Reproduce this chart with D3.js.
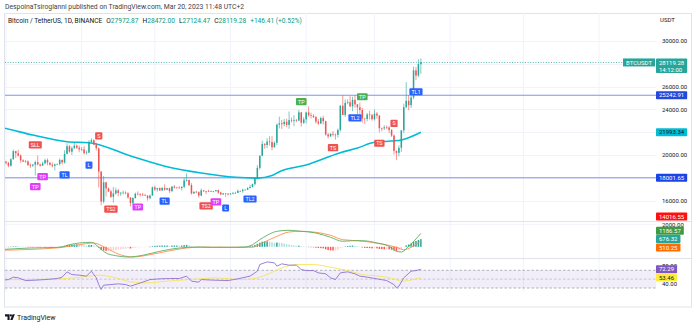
<!DOCTYPE html>
<html><head><meta charset="utf-8">
<script src="https://cdn.jsdelivr.net/npm/d3@7"></script>
<style>
body{margin:0;background:#fff}
svg{display:block;font-family:Roboto,"Liberation Sans",Arial,sans-serif}
</style></head>
<body><svg id="c" width="696" height="325"></svg>
<script>
// ---------------- DATA ----------------
const publishText = "DespoinaTsiroglanni published on TradingView.com, Mar 20, 2023 11:48 UTC+2";
const symbolText = "Bitcoin / TetherUS, 1D, BINANCE";
const startDate = "2022-09-28";
const firstOpen = 19085;
const closes = [19412,19591,19422,
 19310,19057,19630,20337,20159,19955,19531,19417,19439,19131,19060,19155,19375,19177,19068,19268,19550,19334,19140,19053,19173,19208,19567,19345,20095,20771,20295,20592,20818,20636,20496,
 20485,20160,20209,21148,21299,20905,20591,18547,15922,17602,17070,16812,16330,16620,16900,16663,16682,16697,16634,16280,15782,16226,16603,16598,16522,16458,16428,16213,16443,17164,
 16978,17093,16886,17106,16967,17089,16837,17224,17129,17128,17105,17206,17775,17804,17357,16633,16776,16738,16438,16896,16824,16821,16778,16837,16830,16919,16706,16547,16633,16607,16542,
 16616,16672,16675,16850,16831,16951,16955,17091,17196,17446,17934,18869,19930,20954,20871,21185,21133,20677,21071,22667,22784,22707,22917,22632,23060,23009,23074,23022,23743,22827,23125,
 23732,23488,23431,23327,22932,22762,23240,22964,21797,21626,21862,21783,21773,22199,24324,23517,24569,24631,24271,24836,24440,24188,23947,23199,23157,23555,23492,23141,
 23628,23465,22354,22346,22430,22410,22197,21705,20362,20187,20633,22163,24197,24746,24375,25055,27423,26965,27972.87,28119.28];
const highs = [19790,19645,20185,
 19484,19395,19719,20475,20365,20456,20055,19627,19558,19525,19266,19227,19513,19951,19227,19424,19675,19706,19348,19346,19250,19257,19695,19601,20415,21020,20870,20750,21085,20931,20840,
 20700,20800,20394,21302,21480,21365,21069,20670,18590,18155,17656,17154,16945,17190,17134,17015,16750,16860,16815,16746,16290,16300,16705,16812,16610,16684,16595,16483,16530,17250,
 17320,17106,17158,17203,17425,17111,17140,17299,17360,17227,17266,17241,18000,18387,17846,17531,16800,16863,16816,17061,16923,16869,16959,16870,16860,16939,16972,16785,16664,16644,16649,
 16630,16760,16777,16991,16879,17041,16981,17176,17398,17491,17992,19117,19964,21258,21050,21473,21647,21650,21188,22755,23372,23078,23165,23180,23816,23282,23500,23165,23960,23783,23320,
 23812,24255,23715,23587,23433,23158,23367,23452,23011,21938,21906,22090,21890,22322,24380,25250,24873,24877,25190,25120,25250,24476,24599,24132,23218,23689,23880,23600,
 24000,23780,23476,22410,22609,22603,22553,22267,21814,20368,20850,22185,24500,26386,25250,25200,27756,27725,28390,28472];
const lows = [18471,18843,19155,
 19159,18920,18959,19592,19730,19853,19320,19385,19319,19020,18860,18965,18190,19075,18975,19063,19160,19094,19071,18900,18650,19133,19070,19160,19243,20053,20200,20004,20553,20547,20240,
 20330,20048,20032,20180,21080,20880,20384,17167,15588,15755,16361,16749,16229,15815,16527,16378,16410,16550,16556,16160,15476,15618,16168,16460,16350,16394,16400,15995,16105,16429,
 16855,16788,16862,16879,16868,16906,16678,16733,17060,17091,17071,16873,17080,17660,17275,16527,16585,16663,16256,16398,16748,16560,16753,16772,16721,16786,16592,16465,16488,16333,16470,
 16499,16548,16605,16660,16753,16679,16908,16911,17095,17145,17315,17911,18714,19889,20551,20611,20819,20407,20659,20861,22334,22292,22497,22450,22300,22850,22534,22877,22982,22500,22714,
 22760,23363,23204,23253,22745,22628,22710,22665,21688,21451,21599,21630,21351,21531,22047,23505,23345,24450,24192,23840,24148,23574,23608,22841,22722,22963,23106,23020,
 23020,23195,21971,22087,22193,22263,21927,21580,20042,19549,19888,20262,21918,24100,23930,24123,24890,26578,26827,27124.47];
const macdHist = [20,25,15,
 10,-10,5,40,50,45,20,10,5,-15,-25,-30,-10,-20,-25,-15,5,0,-10,-20,-15,-5,20,20,90,160,170,190,210,210,190,
 170,130,110,150,160,120,60,-80,-300,-330,-360,-360,-350,-320,-280,-250,-220,-190,-160,-140,-150,-120,-80,-60,-40,-30,-20,-15,0,60,
 80,100,100,110,110,110,90,110,110,110,100,110,150,170,150,80,40,10,-20,-10,-15,-20,-25,-25,-25,-20,-30,-40,-40,-40,-40,
 -30,-20,-15,0,10,20,30,50,70,100,160,260,360,450,480,480,460,400,360,380,370,330,290,240,200,160,130,100,100,40,20,
 10,-10,-30,-50,-80,-110,-120,-140,-220,-290,-320,-330,-320,-260,-120,-60,20,70,90,110,100,60,10,-60,-100,-110,-120,-140,
 -130,-140,-190,-210,-220,-220,-230,-260,-330,-360,-330,-200,-30,120,200,300,450,520,600,676.32];
// MACD line and signal, read at sample dates
const macdDates = ["2022-09-28","2022-10-11","2022-10-23","2022-10-27","2022-10-31","2022-11-05","2022-11-08","2022-11-11","2022-11-15","2022-11-20","2022-11-26","2022-12-03","2022-12-11","2022-12-19","2022-12-24","2023-01-06","2023-01-10","2023-01-13","2023-01-16","2023-01-20","2023-01-25","2023-01-30","2023-02-05","2023-02-11","2023-02-16","2023-02-20","2023-02-24","2023-03-02","2023-03-07","2023-03-10","2023-03-12","2023-03-15","2023-03-20"];
const macdLine = [-258,-107,-44,187,338,400,-30,-551,-791,-907,-756,-400,-107,-18,-44,-44,187,631,1022,1378,1467,1378,1227,844,489,542,542,338,44,-400,-462,44,1186.57];
const signalDates = ["2022-09-28","2022-10-23","2022-10-31","2022-11-06","2022-11-11","2022-11-16","2022-11-22","2022-11-29","2022-12-06","2022-12-14","2022-12-19","2023-01-10","2023-01-14","2023-01-20","2023-01-25","2023-01-30","2023-02-05","2023-02-11","2023-02-16","2023-02-22","2023-02-27","2023-03-04","2023-03-10","2023-03-13","2023-03-16","2023-03-20"];
const signalLine = [-311,-80,187,338,-107,-640,-907,-702,-400,-107,-44,-44,338,933,1316,1378,1289,1022,631,542,427,249,-44,-258,-44,510.25];
// RSI and its moving average, read at sample dates
const rsiDates = ["2022-09-28","2022-10-02","2022-10-04","2022-10-06","2022-10-09","2022-10-13","2022-10-17","2022-10-22","2022-10-24","2022-10-26","2022-10-28","2022-10-31","2022-11-03","2022-11-05","2022-11-06","2022-11-07","2022-11-08","2022-11-09","2022-11-10","2022-11-13","2022-11-16","2022-11-19","2022-11-21","2022-11-24","2022-11-29","2022-12-03","2022-12-07","2022-12-11","2022-12-14","2022-12-16","2022-12-19","2022-12-20","2022-12-25","2022-12-31","2023-01-04","2023-01-09","2023-01-12","2023-01-13","2023-01-16","2023-01-19","2023-01-20","2023-01-22","2023-01-25","2023-01-28","2023-01-30","2023-02-01","2023-02-04","2023-02-06","2023-02-09","2023-02-11","2023-02-13","2023-02-15","2023-02-18","2023-02-21","2023-02-23","2023-02-26","2023-03-02","2023-03-06","2023-03-09","2023-03-10","2023-03-11","2023-03-13","2023-03-16","2023-03-18","2023-03-20"];
const rsiValues = [46.8,49,54.5,53,46.8,47.7,49,51.4,54.5,66.5,60.4,59,56.8,68,60.4,53,37.8,26.5,36.4,37.8,39.4,37.8,34.2,39.4,49,50.7,51.4,51.4,56.8,45.5,43.2,49,47.7,46.8,50.7,56.8,68,83,89,86.8,79.4,84.6,81.6,81.6,71.7,69.4,69.4,64.2,62,53,49,64.2,66.5,62,56.8,54.5,50.7,46.8,37.8,30.3,34.2,53,68,69.4,72.29];
const rsiMaDates = ["2022-09-28","2022-10-12","2022-10-26","2022-11-04","2022-11-08","2022-11-15","2022-11-21","2022-11-28","2022-12-06","2022-12-19","2022-12-25","2023-01-06","2023-01-10","2023-01-16","2023-01-22","2023-01-28","2023-02-04","2023-02-11","2023-02-18","2023-02-24","2023-03-03","2023-03-09","2023-03-12","2023-03-15","2023-03-20"];
const rsiMaValues = [49,49,51.4,56.8,59,53,44,41.6,45.5,50.7,53,49,50.7,60.4,75.5,83,83,77,69.4,60.4,56.8,50.7,45.5,46.8,53.46];
// Cyan moving average on price, read at sample dates
const maDates = ["2022-09-28","2022-09-30","2022-10-12","2022-10-26","2022-11-04","2022-11-22","2022-12-06","2022-12-20","2023-01-03","2023-01-12","2023-01-18","2023-01-21","2023-02-01","2023-02-15","2023-02-22","2023-03-01","2023-03-08","2023-03-12","2023-03-20"];
const maValues = [22450,22368,21750,21167,21079,19851,18974,18421,18044,17970,18200,18535,19123,20202,20614,21114,21228,21316,21993.34];
// Horizontal levels
const levelValues = [25242.91, 18001.65];
const extraTagValue = 14016.55;
const priceGrid = [16000,18000,20000,22000,24000,26000,28000,30000];
const priceTickLabels = [16000,20000,24000,26000,30000];
const macdTickLabels = [2000];
const rsiTickLabels = [40,80];
const countdown = "14:12:00";
const tickerName = "BTCUSDT";
const quoteName = "USDT";
// Strategy signal labels
const annTexts = ["SLL","S","L","TL","TP","TP","TS2","TP","TL","TS2","TP","L","TL2","TP","TS","TL2","TP","TS","S","TL1"];
const annKinds = ["sell","sell","buy","buy","tps","tps","sell","tps","buy","sell","tps","buy","buy","tpl","sell","buy","tpl","sell","sell","buy"];
const annDates = ["2022-10-13","2022-11-08","2022-11-04","2022-10-25","2022-10-16","2022-10-13","2022-11-13","2022-11-24","2022-12-05","2022-12-22","2022-12-26","2022-12-30","2023-01-09","2023-01-30","2023-02-12","2023-02-21","2023-02-24","2023-03-03","2023-03-09","2023-03-18"];
const annPrices = [20880,21670,19120,18250,18100,17220,15260,15440,15960,15530,15880,15350,16140,24680,20640,23250,25110,21030,22780,25550];

// ---------------- DRAW ----------------
const svg = d3.select("#c");
const parse = d3.utcParse("%Y-%m-%d");
const t0 = parse(startDate);
const dates = closes.map((_, i) => d3.utcDay.offset(t0, i));
const opens = [firstOpen].concat(closes.slice(0, -1));
const n = closes.length;

const L = 5, R = 656;
const mainTop = 13, mainBot = 221, macdBot = 258, rsiBot = 292;
const x = d3.scaleUtc().domain([parse("2022-10-01"), parse("2023-06-01")]).range([6, 599]);
const yP = d3.scaleLinear().domain([20000, 30000]).range([155, 41]);
const yM = d3.scaleLinear().domain([0, 2000]).range([246.8, 224.3]);
const yR = d3.scaleLinear().domain([30, 70]).range([288, 270.3]);

const UP = "#26a69a", DN = "#ef5350", GRID = "#f0f3fa", BORDER = "#e0e3eb", TXT = "#131722";
const FONT = 6;

const defs = svg.append("defs");
function clip(id, y0, y1) {
  defs.append("clipPath").attr("id", id).append("rect").attr("x", L).attr("y", y0).attr("width", R - L).attr("height", y1 - y0);
}
clip("cMain", mainTop, mainBot); clip("cMacd", mainBot, macdBot); clip("cRsi", macdBot, rsiBot);
defs.append("clipPath").attr("id", "cAxisX").append("rect").attr("x", L).attr("y", rsiBot).attr("width", R - L + 40).attr("height", 20);

// frame
svg.append("rect").attr("x", 4.5).attr("y", 13.5).attr("width", 687).attr("height", 293.5)
  .attr("fill", "none").attr("stroke", BORDER).attr("stroke-width", 1);

// vertical grid
const months = x.ticks(d3.utcMonth.every(1));
svg.append("g").selectAll("line").data(months.filter(d => x(d) > L && x(d) < R)).join("line")
  .attr("x1", d => x(d)).attr("x2", d => x(d)).attr("y1", mainTop).attr("y2", rsiBot)
  .attr("stroke", GRID).attr("stroke-width", 1);

// horizontal grid
const gMain = svg.append("g").attr("clip-path", "url(#cMain)");
gMain.selectAll("line.hg").data(priceGrid).join("line").attr("class", "hg")
  .attr("x1", L).attr("x2", R).attr("y1", d => Math.round(yP(d)) + 0.5).attr("y2", d => Math.round(yP(d)) + 0.5)
  .attr("stroke", GRID);
const gMacd = svg.append("g").attr("clip-path", "url(#cMacd)");
gMacd.selectAll("line").data(macdTickLabels).join("line")
  .attr("x1", L).attr("x2", R).attr("y1", d => yM(d)).attr("y2", d => yM(d)).attr("stroke", GRID);

// pane separators
svg.append("g").selectAll("line").data([mainBot, macdBot]).join("line")
  .attr("x1", L).attr("x2", 691).attr("y1", d => d + 0.5).attr("y2", d => d + 0.5)
  .attr("stroke", BORDER).attr("stroke-width", 1);

// ---- main pane ----
gMain.selectAll("line.lvl").data(levelValues).join("line").attr("class", "lvl")
  .attr("x1", L).attr("x2", R).attr("y1", d => yP(d)).attr("y2", d => yP(d))
  .attr("stroke", "#7d95f3").attr("stroke-width", 1.1);
const lastC = closes[n - 1];
gMain.append("line").attr("x1", L).attr("x2", 625).attr("y1", yP(lastC)).attr("y2", yP(lastC))
  .attr("stroke", UP).attr("stroke-width", 0.8).attr("stroke-dasharray", "1,1.6");

const maPts = maDates.map((d, i) => [parse(d), maValues[i]]);
gMain.append("path").attr("d", d3.line().x(d => x(d[0])).y(d => yP(d[1])).curve(d3.curveMonotoneX)(maPts))
  .attr("fill", "none").attr("stroke", "#00bcd4").attr("stroke-width", 1.6);

const bw = 1.5;
const cg = gMain.append("g");
const idx = d3.range(n);
cg.selectAll("line.w").data(idx).join("line").attr("class", "w")
  .attr("x1", i => x(dates[i])).attr("x2", i => x(dates[i]))
  .attr("y1", i => yP(highs[i])).attr("y2", i => yP(lows[i]))
  .attr("stroke", i => closes[i] >= opens[i] ? UP : DN).attr("stroke-width", 0.6);
cg.selectAll("rect").data(idx).join("rect")
  .attr("x", i => x(dates[i]) - bw / 2).attr("width", bw)
  .attr("y", i => yP(Math.max(opens[i], closes[i])))
  .attr("height", i => Math.max(0.6, Math.abs(yP(opens[i]) - yP(closes[i]))))
  .attr("fill", i => closes[i] >= opens[i] ? UP : DN);

const annStyle = { sell: "#f0524f", buy: "#2962ff", tps: "#e040fb", tpl: "#4caf50" };
const ag = svg.append("g").attr("clip-path", "url(#cMain)");
annTexts.forEach((t, i) => {
  const cx = x(parse(annDates[i])), cy = yP(annPrices[i]);
  const g = ag.append("g");
  const tx = g.append("text").attr("x", cx).attr("y", cy + 2).attr("text-anchor", "middle")
    .attr("font-size", 5.4).attr("fill", "#fff").text(t);
  const w = tx.node().getComputedTextLength() + 4;
  g.insert("rect", "text").attr("x", cx - w / 2).attr("y", cy - 3.6).attr("width", w).attr("height", 7.2)
    .attr("rx", 1).attr("fill", annStyle[annKinds[i]]);
});

// ---- MACD pane ----
const hg = gMacd.append("g");
hg.selectAll("rect").data(idx).join("rect")
  .attr("x", i => x(dates[i]) - 0.75).attr("width", 1.5)
  .attr("y", i => Math.min(yM(0), yM(macdHist[i])))
  .attr("height", i => Math.max(0.4, Math.abs(yM(macdHist[i]) - yM(0))))
  .attr("fill", i => {
    const v = macdHist[i], p = i > 0 ? macdHist[i - 1] : v;
    return v >= 0 ? (v >= p ? "#26a69a" : "#b2dfdb") : (v < p ? "#ff5252" : "#ffcdd2");
  });
const lineGen = (ys) => d3.line().x(d => x(d[0])).y(d => ys(d[1])).curve(d3.curveMonotoneX);
gMacd.append("path").attr("d", lineGen(yM)(signalDates.map((d, i) => [parse(d), signalLine[i]])))
  .attr("fill", "none").attr("stroke", "#ff8f4a").attr("stroke-width", 0.9);
gMacd.append("path").attr("d", lineGen(yM)(macdDates.map((d, i) => [parse(d), macdLine[i]])))
  .attr("fill", "none").attr("stroke", "#5fae62").attr("stroke-width", 0.9);

// ---- RSI pane ----
const gRsi = svg.append("g").attr("clip-path", "url(#cRsi)");
gRsi.append("rect").attr("x", L).attr("width", R - L).attr("y", yR(70)).attr("height", yR(30) - yR(70))
  .attr("fill", "#7e57c2").attr("fill-opacity", 0.1);
gRsi.selectAll("line").data([70, 50, 30]).join("line")
  .attr("x1", L).attr("x2", R).attr("y1", d => yR(d)).attr("y2", d => yR(d))
  .attr("stroke", "#9598a1").attr("stroke-width", 0.8).attr("stroke-dasharray", "2.5,2")
  .attr("stroke-opacity", d => d === 50 ? 0.6 : 0.9);
gRsi.append("path").attr("d", d3.line().x(d => x(d[0])).y(d => yR(d[1])).curve(d3.curveMonotoneX)(rsiMaDates.map((d, i) => [parse(d), rsiMaValues[i]])))
  .attr("fill", "none").attr("stroke", "#f7e45a").attr("stroke-width", 0.9);
gRsi.append("path").attr("d", d3.line().x(d => x(d[0])).y(d => yR(d[1]))(rsiDates.map((d, i) => [parse(d), rsiValues[i]])))
  .attr("fill", "none").attr("stroke", "#8e72d6").attr("stroke-width", 0.9);

// ---- right axes ----
function rAxis(scale, ticks, fmt) {
  const g = svg.append("g").attr("transform", `translate(${R + 3},0)`)
    .call(d3.axisRight(scale).tickValues(ticks).tickSize(0).tickFormat(fmt));
  g.select(".domain").remove();
  g.selectAll("text").attr("font-size", FONT).attr("fill", TXT).attr("font-family", "Roboto,'Liberation Sans',sans-serif");
  return g;
}
rAxis(yP, priceTickLabels, d3.format(".2f"));
rAxis(yM, macdTickLabels, d3.format(".2f"));
rAxis(yR, rsiTickLabels, d3.format(".2f"));
svg.append("text").attr("x", R + 4).attr("y", 22).attr("font-size", FONT).attr("fill", TXT).text(quoteName);

function tag(y, lines, bg, fg, x0) {
  const g = svg.append("g");
  const txts = lines.map((s, k) => g.append("text").attr("x", x0 + 3).attr("y", y + 2.1 + k * 7)
    .attr("font-size", FONT).attr("fill", fg).text(s));
  const w = d3.max(txts, t => t.node().getComputedTextLength()) + 6;
  g.insert("rect", "text").attr("x", x0).attr("y", y - 4).attr("width", w).attr("height", 8 + (lines.length - 1) * 6.5)
    .attr("fill", bg).attr("rx", 0.8);
  return w;
}
const fmt2 = d3.format(".2f");
tag(yP(lastC), [fmt2(lastC), countdown], UP, "#fff", R);
(function () {
  const g = svg.append("g");
  const t = g.append("text").attr("y", yP(lastC) + 2.1).attr("font-size", FONT).attr("fill", "#fff").text(tickerName);
  const w = t.node().getComputedTextLength() + 6;
  t.attr("x", R - 1 - w + 3);
  g.insert("rect", "text").attr("x", R - 1 - w).attr("y", yP(lastC) - 4).attr("width", w).attr("height", 8).attr("fill", UP);
})();
const levelColors = ["#2448d8", "#1a44e6"];
levelValues.forEach((v, i) => tag(yP(v), [fmt2(v)], levelColors[i], "#fff", R));
tag(yP(maValues[maValues.length - 1]), [fmt2(maValues[maValues.length - 1])], "#00bcd4", TXT, R);
tag(Math.min(yP(extraTagValue), mainBot - 4.5), [fmt2(extraTagValue)], "#ff1010", "#fff", R);

const mtags = [
  { v: macdLine[macdLine.length - 1], bg: "#3f9a42", fg: "#fff" },
  { v: macdHist[n - 1], bg: "#26a69a", fg: "#fff" },
  { v: signalLine[signalLine.length - 1], bg: "#ff6d00", fg: "#fff" }
];
mtags.forEach(t => t.y = yM(t.v));
mtags.sort((a, b) => a.y - b.y);
for (let it = 0; it < 50; it++) {
  for (let k = 1; k < mtags.length; k++) {
    const d = mtags[k].y - mtags[k - 1].y;
    if (d < 8.4) { const s = (8.4 - d) / 2; mtags[k].y += s; mtags[k - 1].y -= s; }
  }
}
mtags.forEach(t => tag(t.y + 1.2, [fmt2(t.v)], t.bg, t.fg, R));
tag(yR(rsiValues[rsiValues.length - 1]), [fmt2(rsiValues[rsiValues.length - 1])], "#7e57c2", "#fff", R);
tag(yR(rsiMaValues[rsiMaValues.length - 1]), [fmt2(rsiMaValues[rsiMaValues.length - 1])], "#ffeb3b", TXT, R);

// ---- time axis ----
const xa = svg.append("g").attr("transform", `translate(0,${rsiBot + 4})`).attr("clip-path", "url(#cAxisX)")
  .call(d3.axisBottom(x).ticks(d3.utcMonth.every(1)).tickSize(0)
    .tickFormat(d => d.getUTCMonth() === 0 ? d3.utcFormat("%Y")(d) : d3.utcFormat("%b")(d)));
xa.select(".domain").remove();
xa.selectAll("text").attr("font-size", FONT).attr("fill", TXT)
  .attr("font-weight", d => d.getUTCMonth() === 0 ? 600 : 400);

// ---- header / legend ----
svg.append("text").attr("x", 5).attr("y", 9).attr("font-size", 6.8).attr("fill", "#3b3f4a").text(publishText);
const lg = svg.append("text").attr("x", 8).attr("y", 22.5).attr("font-size", 6.6).attr("fill", TXT);
const GV = "#089981";
const lastO = opens[n - 1], lastH = highs[n - 1], lastL = lows[n - 1], chg = lastC - opens[n - 1];
lg.append("tspan").text(symbolText);
[["O", lastO], ["H", lastH], ["L", lastL], ["C", lastC]].forEach(([k, v]) => {
  lg.append("tspan").attr("dx", 4).text(k);
  lg.append("tspan").attr("fill", GV).text(fmt2(v));
});
lg.append("tspan").attr("dx", 4).attr("fill", GV).text(`${chg >= 0 ? "+" : ""}${fmt2(chg)} (${chg >= 0 ? "+" : ""}${fmt2(chg / opens[n - 1] * 100)}%)`);

// ---- footer ----
const fg = svg.append("g").attr("fill", TXT);
fg.append("path").attr("d", "M5 314.3h4.6v5.8h-2.1v-3.6h-2.5z");
fg.append("circle").attr("cx", 10.9).attr("cy", 315.4).attr("r", 1.1);
fg.append("path").attr("d", "M12.6 314.3h2.3l-2.4 5.8h-2.3z");
fg.append("text").attr("x", 17).attr("y", 320).attr("font-size", 7).text("TradingView");
</script>
</body></html>
